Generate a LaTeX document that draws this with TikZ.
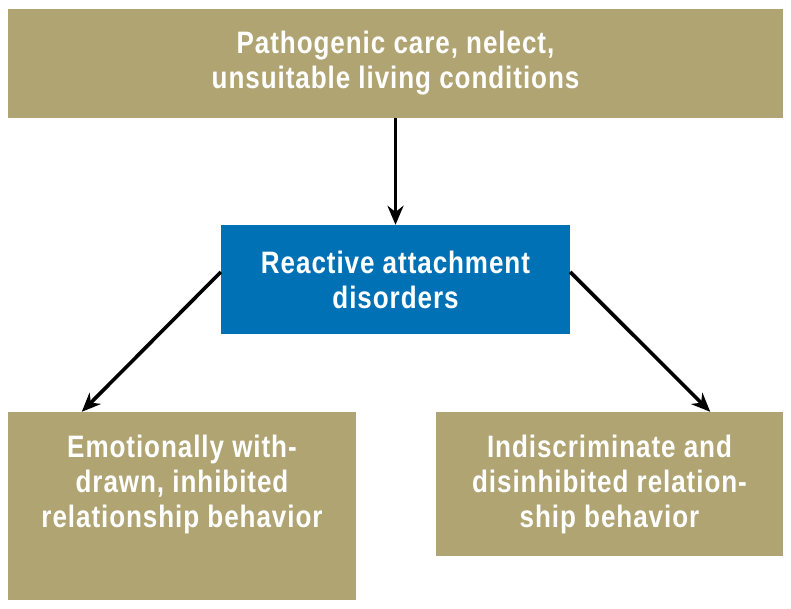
\documentclass[tikz,border=0pt]{standalone}
\usepackage{fontspec}
\setmainfont{Liberation Sans}[FakeStretch=0.84, LetterSpace=3]
\usetikzlibrary{arrows.meta}
\definecolor{khaki}{HTML}{AFA472}
\definecolor{raublue}{HTML}{0071B5}
\tikzset{
  box/.style={fill=khaki, text=white, align=center, inner sep=0pt,
    font=\fontsize{31}{35}\selectfont\bfseries},
  bluebox/.style={box, fill=raublue},
  arr/.style={line width=3.6pt, -{Stealth[length=19pt,width=16pt]}}
}
\begin{document}
\begin{tikzpicture}[x=1pt,y=-1pt]
\useasboundingbox (0,0) rectangle (791,608);
\node[box, minimum width=775pt, minimum height=109pt] (care) at (395.5,63.5)
  {Pathogenic care, nelect,\\unsuitable living conditions};
\node[bluebox, minimum width=349pt, minimum height=109pt] (rad) at (395.5,279.5)
  {Reactive attachment\\disorders};
\node[box, minimum width=348pt, minimum height=144pt] (emo) at (182,484)
  {Emotionally with-\\drawn, inhibited\\relationship behavior};
\fill[khaki] (emo.south west) rectangle ([yshift=-44pt]emo.south east);
\node[box, minimum width=347pt, minimum height=144pt] (indis) at (609.5,484)
  {Indiscriminate and\\disinhibited relation-\\ship behavior};
% arrows
\draw[arr] (care) -- (rad);
\draw[arr] ([yshift=7.5pt]rad.west) -- ([xshift=74pt]emo.north west);
\draw[arr] ([yshift=7.5pt]rad.east) -- ([xshift=-73pt]indis.north east);
\end{tikzpicture}
\end{document}
